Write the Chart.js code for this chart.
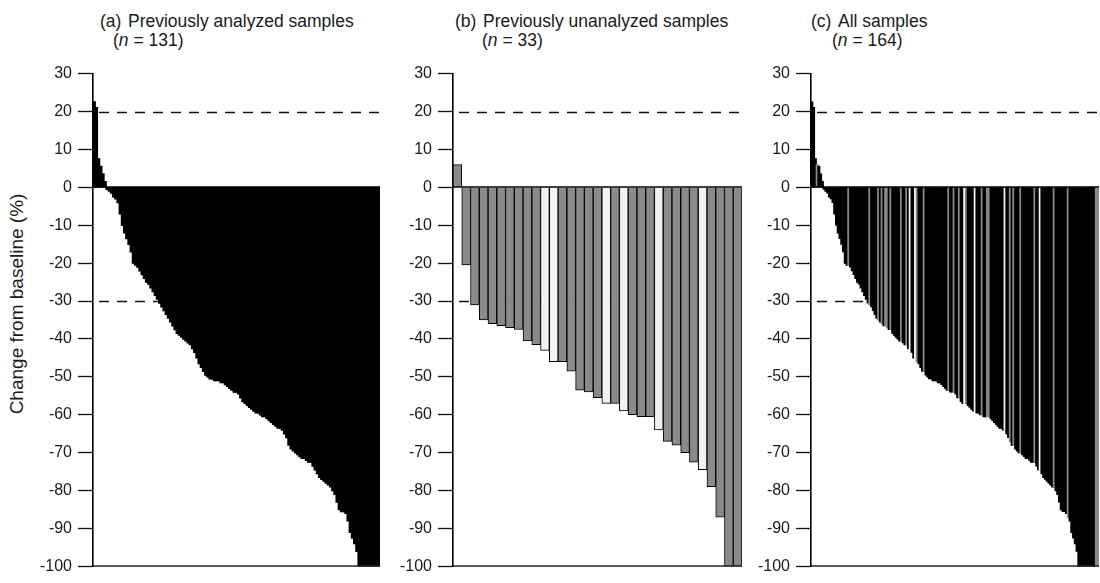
<!DOCTYPE html>
<html>
<head>
<meta charset="utf-8">
<script src="https://cdn.jsdelivr.net/npm/chart.js@4.4.1/dist/chart.umd.min.js"></script>
<style>
  body { margin: 0; background: #fff; width: 1100px; height: 583px; position: relative; overflow: hidden;
         font-family: "Liberation Sans", Arial, sans-serif; color: #1a1a1a; }
  .panel { position: absolute; top: 58px; height: 524px; }
  .title { position: absolute; font-size: 17.5px; line-height: 20px; white-space: nowrap; }
  .ytitle { position: absolute; left: 17px; top: 304px; font-size: 19px; white-space: nowrap;
            transform: translate(-50%, -50%) rotate(-90deg); }
</style>
</head>
<body>
<div class="title" style="left:100px; top:11px">(a)</div>
<div class="title" style="left:128px; top:11px">Previously analyzed samples</div>
<div class="title" style="left:113px; top:30px">(<i>n</i> = 131)</div>

<div class="title" style="left:455px; top:11px">(b)</div>
<div class="title" style="left:483px; top:11px">Previously unanalyzed samples</div>
<div class="title" style="left:482px; top:30px">(<i>n</i> = 33)</div>

<div class="title" style="left:811px; top:11px">(c)</div>
<div class="title" style="left:838px; top:11px">All samples</div>
<div class="title" style="left:832px; top:30px">(<i>n</i> = 164)</div>

<div class="ytitle">Change from baseline (%)</div>

<div class="panel" style="left:33px; width:351px"><canvas id="chartA" width="351" height="524"></canvas></div>
<div class="panel" style="left:393px; width:353px"><canvas id="chartB" width="353" height="524"></canvas></div>
<div class="panel" style="left:751px; width:349px"><canvas id="chartC" width="349" height="524"></canvas></div>

<script>
// % change from baseline, sorted from best to worst response
const analyzed = [
  22.5, 21, 7.5, 5.5, 3.5, 1.5,
  -0.5, -1, -1.5, -2.5, -3, -4, -7, -10, -12, -13.5, -15, -17, -20, -20.5,
  -21, -22, -23, -24, -25, -25.5, -26.5, -27.5, -28.5, -29.5,
  -30.5, -31.5, -32.5, -33.5, -34.5, -35.5, -36.5, -37.5, -38.5, -39,
  -39.5, -40, -40.5, -41, -41.5, -42.5, -43.5, -45, -46.5, -47.5,
  -48.5, -49.5, -50, -50.5, -50.5, -51, -51, -51, -51.5, -51.5,
  -52, -52.5, -53, -53.5, -54, -54, -54.5, -55.5, -56.5, -57,
  -57.5, -58, -58.5, -59, -59.5, -59.5, -60, -60.5, -60.5, -61,
  -61.5, -62, -62.5, -63, -63.5, -63.5, -64, -65, -66, -68,
  -69, -69.5, -70, -70.5, -71, -71.5, -71.5, -72, -72.5, -72.5,
  -73.5, -74.5, -75.5, -76.5, -77, -77.5, -78, -78.5, -79, -80,
  -81, -83, -85, -85.5, -85.5, -86, -88, -91, -92.5, -94,
  -96, -100, -100, -100, -100, -100, -100, -100, -100, -100, -100
];

const unanalyzed = [
  6, -20.5, -31, -35, -36, -36.5, -37, -37.5, -40.5, -41.5,
  -43, -46, -46, -48.5, -53.5, -54, -55.5, -57, -57, -59,
  -60, -60.5, -60.5, -64, -67, -68, -70, -72.5, -74.5, -79,
  -87, -100, -100
];

// shading of each unanalyzed sample
const unanalyzedShade = [
  'gray', 'gray', 'gray', 'gray', 'gray', 'gray', 'gray', 'gray', 'gray', 'gray',
  'white', 'white', 'gray', 'gray', 'gray', 'gray', 'gray', 'white', 'gray', 'white',
  'gray', 'gray', 'gray', 'white', 'gray', 'gray', 'gray', 'gray', 'white', 'gray',
  'gray', 'gray', 'gray'
];

const yTicks = [30, 20, 10, 0, -10, -20, -30, -40, -50, -60, -70, -80, -90, -100];
const refLevels = [20, -30];

const shadeColor = { black: '#000000', gray: '#8a8a8a', white: '#f2f2f2' };

// all samples together, re-sorted
const allSamples = analyzed.map(v => ({ v, shade: 'black' }))
  .concat(unanalyzed.map((v, i) => ({ v, shade: unanalyzedShade[i] })))
  .sort((p, q) => q.v - p.v);

Chart.defaults.font.family = '"Liberation Sans", Arial, sans-serif';
Chart.defaults.font.size = 16;
Chart.defaults.color = '#1a1a1a';

const refLines = {
  id: 'refLines',
  beforeDatasetsDraw(chart) {
    const { ctx, chartArea: { left, right }, scales: { y } } = chart;
    ctx.save();
    ctx.strokeStyle = '#111';
    ctx.lineWidth = 1.5;
    ctx.setLineDash([10, 8]);
    refLevels.forEach(v => {
      const py = Math.round(y.getPixelForValue(v)) + 0.5;
      ctx.beginPath();
      ctx.moveTo(left + 6, py);
      ctx.lineTo(right, py);
      ctx.stroke();
    });
    ctx.restore();
  },
  afterDatasetsDraw(chart) {
    const { ctx, chartArea: { left, right }, scales: { y } } = chart;
    ctx.save();
    ctx.lineWidth = 1.5;
    [[0, '#000'], [-100, '#222']].forEach(([v, c]) => {
      const py = Math.round(y.getPixelForValue(v));
      ctx.strokeStyle = c;
      ctx.beginPath();
      ctx.moveTo(left, py);
      ctx.lineTo(right, py);
      ctx.stroke();
    });
    ctx.restore();
  }
};

const makeChart = (id, values, colors, rightPad, extra) => {
  const dataset = Object.assign({
    data: values,
    backgroundColor: colors,
    borderColor: '#000',
    borderWidth: 0,
    borderSkipped: 'start',
    categoryPercentage: 1,
    barPercentage: 1
  }, extra);

  new Chart(document.getElementById(id), {
    type: 'bar',
    data: { labels: values.map((_, i) => i + 1), datasets: [dataset] },
    options: {
      responsive: false,
      animation: false,
      layout: { padding: { left: 0, right: rightPad, top: 12, bottom: 12 } },
      plugins: { legend: { display: false }, tooltip: { enabled: false } },
      scales: {
        x: { display: false },
        y: {
          min: -100,
          max: 30,
          afterFit: scale => { scale.width = 60; },
          afterBuildTicks: scale => { scale.ticks = yTicks.map(v => ({ value: v })); },
          ticks: { padding: 6, color: '#1a1a1a', font: { size: 16 } },
          grid: { drawOnChartArea: false, drawTicks: true, tickLength: 15, tickWidth: 1.3, tickColor: '#111' },
          border: { display: true, color: '#000', width: 1.6 }
        }
      }
    },
    plugins: [refLines]
  });
};

// inflating the narrow bars closes the hairline seams between neighbours
makeChart('chartA', analyzed, analyzed.map(() => shadeColor.black), 4, { inflateAmount: 0.7 });
makeChart('chartB', unanalyzed, unanalyzedShade.map(s => shadeColor[s]), 4, { borderWidth: 1 });
makeChart('chartC', allSamples.map(s => s.v), allSamples.map(s => shadeColor[s.shade]), 1, { inflateAmount: 0.6 });
</script>
</body>
</html>
